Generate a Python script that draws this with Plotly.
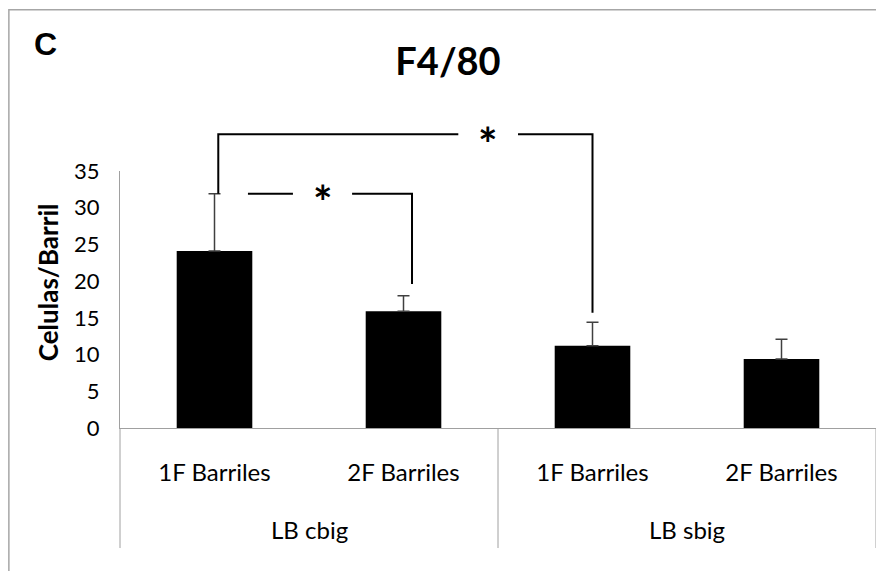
import plotly.graph_objects as go

# ---- data ----
groups = ["LB cbig", "LB cbig", "LB sbig", "LB sbig"]
subcats = ["1F Barriles", "2F Barriles", "1F Barriles", "2F Barriles"]
group_labels = ["LB cbig", "LB sbig"]
values = [24.1, 15.9, 11.2, 9.4]
errors = [7.8, 2.1, 3.2, 2.7]
y_ticks = [0, 5, 10, 15, 20, 25, 30, 35]
Y_MAX = 35

# significance brackets: (x points, y points) in data units, star position
big_bracket_left_x = [0.02, 0.02, 1.29]
big_bracket_left_y = [31.9, 40.0, 40.0]
big_bracket_right_x = [1.606, 2.0, 2.0]
big_bracket_right_y = [40.0, 40.0, 15.7]
big_star = (1.447, 39.9)
small_bracket_left_x = [0.177, 0.415]
small_bracket_left_y = [31.9, 31.9]
small_bracket_right_x = [0.728, 1.045, 1.045]
small_bracket_right_y = [31.9, 31.9, 19.6]
small_star = (0.574, 32.0)

FONT = "Lato"
xpos = list(range(len(values)))

# page body adds an 8px offset; figure sized so it fits the window
W, H = 876, 563

fig = go.Figure()
fig.add_trace(go.Bar(
    x=xpos, y=values,
    marker=dict(color="black", line=dict(width=0)),
    error_y=dict(type="data", array=errors, arrayminus=[0] * len(errors),
                 symmetric=False, color="#404040", thickness=1.5, width=6),
    showlegend=False,
))

def ydom(v):
    return v / Y_MAX

def polyline(xs, ys):
    path = "M " + " L ".join(f"{x},{ydom(y)}" for x, y in zip(xs, ys))
    return dict(type="path", path=path, xref="x", yref="y domain",
                line=dict(color="black", width=2), layer="above")

shapes = [
    polyline(big_bracket_left_x, big_bracket_left_y),
    polyline(big_bracket_right_x, big_bracket_right_y),
    polyline(small_bracket_left_x, small_bracket_left_y),
    polyline(small_bracket_right_x, small_bracket_right_y),
]
# group dividers below the axis
for xd in [0, 0.5, 1]:
    shapes.append(dict(type="line", xref="x domain", yref="paper",
                       x0=xd, x1=xd, y0=0, y1=-0.467,
                       line=dict(color="#a0a0a0", width=1)))
# chart area border (top and left visible)
shapes.append(dict(type="rect", xref="paper", yref="paper",
                   x0=-0.147, x1=1.05, y0=-0.7, y1=1.627,
                   line=dict(color="#a6a6a6", width=1.5), layer="below"))

annotations = []
for sx, sy in [big_star, small_star]:
    annotations.append(dict(x=sx, y=ydom(sy), xref="x", yref="y domain",
                            text="*", showarrow=False, yanchor="middle",
                            yshift=-8,
                            font=dict(family=FONT, size=46, color="black", weight="bold")))
for i, g in enumerate(group_labels):
    annotations.append(dict(x=2 * i + 0.5, y=-0.393, xref="x", yref="paper",
                            text=g, showarrow=False, yanchor="middle",
                            font=dict(family=FONT, size=24, color="black")))
annotations.append(dict(x=-0.098, y=1.494, xref="paper", yref="paper",
                        text="<b>C</b>", showarrow=False,
                        xanchor="center", yanchor="middle",
                        font=dict(family="Liberation Sans", size=32, color="black")))
# y-axis title (placed slightly above the axis centre, as in the original)
annotations.append(dict(x=-0.095, y=0.568, xref="paper", yref="paper",
                        text="<b>Celulas/Barril</b>", showarrow=False,
                        textangle=-90, xanchor="center", yanchor="middle",
                        font=dict(family=FONT, size=26, color="black")))

fig.update_layout(
    width=W, height=H,
    margin=dict(l=112, r=8, t=163, b=143, autoexpand=False),
    paper_bgcolor="white", plot_bgcolor="white",
    bargap=0.6,
    title=dict(text="<b>F4/80</b>", x=440 / W, xref="container", xanchor="center",
               y=1 - 54 / H, yref="container", yanchor="middle",
               font=dict(family=FONT, size=38, color="black")),
    shapes=shapes,
    annotations=annotations,
    xaxis=dict(range=[-0.5, 3.5], tickvals=xpos, ticktext=subcats,
               showline=True, linecolor="#a0a0a0", linewidth=1,
               showgrid=False, zeroline=False, ticks="",
               ticklabelstandoff=23,
               tickfont=dict(family=FONT, size=24, color="black")),
    yaxis=dict(range=[0, Y_MAX], tickvals=y_ticks,
               showline=True, linecolor="#a0a0a0", linewidth=1,
               showgrid=False, zeroline=False, ticks="",
               ticklabelstandoff=15,
               tickfont=dict(family=FONT, size=22, color="black")),
)

fig.write_html("out.html")
